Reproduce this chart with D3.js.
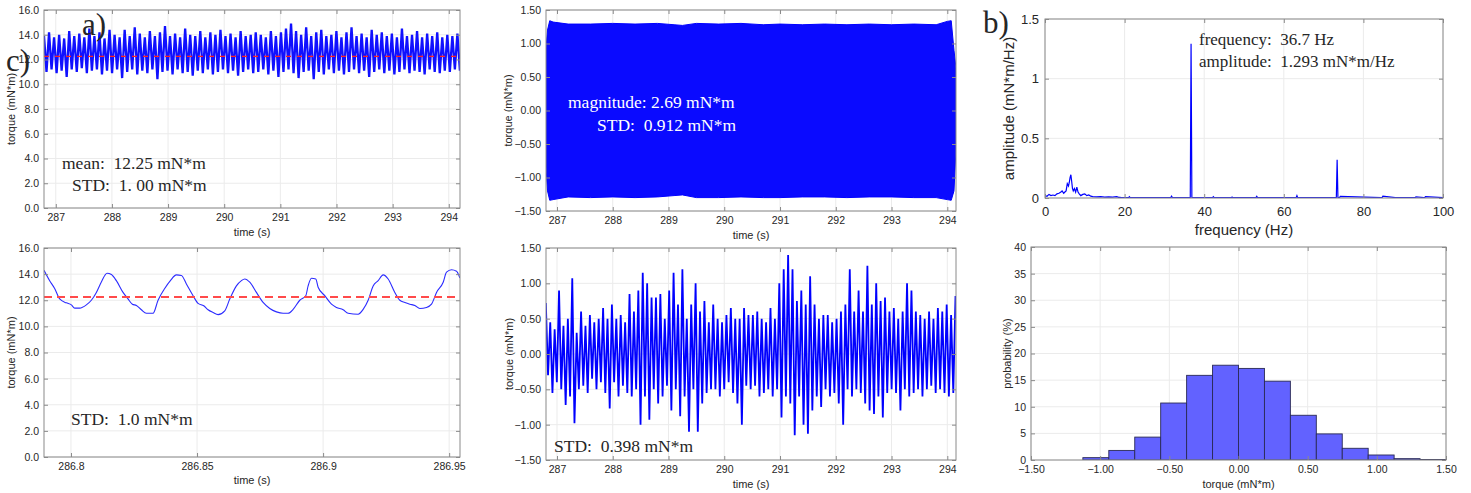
<!DOCTYPE html>
<html>
<head>
<meta charset="utf-8">
<script src="https://cdn.jsdelivr.net/npm/d3@7"></script>
<style>
  body { margin: 0; background: #fff; }
  svg { display: block; }
  text { font-family: "Liberation Sans", Arial, sans-serif; fill: #262626; }
  .note { font-family: "Liberation Serif", "Times New Roman", serif; white-space: pre; }
</style>
</head>
<body>
<svg id="fig" width="1471" height="493"></svg>
<script>
'use strict';

// ---- a) raw torque, peaks / troughs of the dense trace (mN*m)
const rawStart = 286.79, rawStep = 0.0449;
const rawPeaks = [
  13.9, 14.2, 13.8, 14.0, 13.7, 14.3, 13.9, 14.1, 13.8, 14.5,
  13.9, 14.2, 13.7, 14.4, 14.0, 13.8, 14.4, 13.9, 14.6, 14.1,
  13.8, 14.3, 13.9, 14.2, 14.7, 13.9, 14.1, 13.8, 14.5, 14.0,
  13.9, 14.3, 13.8, 14.2, 14.0, 14.4, 13.9, 14.1, 13.8, 14.3,
  13.9, 14.0, 14.2, 14.0, 13.8, 14.3, 13.9, 14.2, 14.5, 14.9,
  14.3, 14.0, 14.6, 13.9, 14.2, 14.4, 13.9, 14.0, 14.3, 13.8,
  14.2, 14.6, 13.9, 14.1, 13.8, 14.4, 14.0, 14.2, 13.9, 14.1,
  13.8, 14.5, 13.9, 14.0, 14.3, 13.8, 14.1, 13.9, 14.2, 13.8,
  14.0, 13.9, 14.1
];
const rawTroughs = [
  11.0, 11.2, 10.9, 11.1, 10.6, 11.2, 11.0, 11.3, 10.9, 11.1,
  11.2, 10.8, 11.1, 10.9, 11.2, 10.5, 11.0, 11.2, 10.8, 11.1,
  10.9, 11.2, 10.4, 11.0, 11.1, 10.8, 11.2, 10.9, 11.0, 10.7,
  11.1, 10.9, 11.2, 10.8, 11.0, 11.2, 10.9, 11.1, 10.7, 11.0,
  11.2, 10.9, 11.0, 11.2, 10.8, 11.1, 10.6, 11.0, 11.2, 10.9,
  10.5, 11.0, 11.1, 10.4, 11.0, 10.8, 11.2, 10.9, 11.1, 10.8,
  11.0, 11.2, 10.9, 11.1, 10.6, 11.0, 11.2, 10.9, 11.1, 10.8,
  11.0, 11.2, 10.9, 11.1, 11.0, 10.8, 11.2, 11.0, 10.9, 11.1,
  11.0, 11.2, 11.1
];
const meanTorque = 12.25;

// ---- 36.7 Hz component envelope (mN*m)
const oscT     = [286.80, 286.83, 286.87, 286.93, 287.2, 287.6, 288.0, 288.4, 288.8, 289.1, 289.25, 289.5, 289.9, 290.3, 290.7, 291.0, 291.4, 291.8, 292.2, 292.6, 293.0, 293.4, 293.8, 294.0, 294.07, 294.12, 294.16];
const oscUpper = [0.9, 1.2, 1.34, 1.32, 1.29, 1.29, 1.3, 1.29, 1.3, 1.28, 1.27, 1.3, 1.29, 1.3, 1.28, 1.29, 1.28, 1.29, 1.28, 1.29, 1.28, 1.29, 1.28, 1.33, 1.34, 0.9, 0.6];
const oscLower = [-0.8, -1.2, -1.34, -1.33, -1.29, -1.3, -1.29, -1.3, -1.29, -1.27, -1.26, -1.3, -1.3, -1.29, -1.3, -1.3, -1.29, -1.29, -1.3, -1.29, -1.29, -1.3, -1.3, -1.33, -1.34, -1.2, -0.5];

// ---- b) amplitude spectrum
const specFreq = [
  0, 0.5, 1, 1.5, 2, 2.5, 3, 3.5, 4, 4.3,
  4.7, 5, 5.3, 5.6, 5.9, 6.1, 6.3, 6.5, 6.7, 6.9,
  7.1, 7.4, 7.7, 8, 8.3, 8.6, 9, 9.5, 10, 10.5,
  11, 11.5, 12, 13, 14, 15, 16, 17, 18, 18.5,
  19, 21, 21.2, 21.4, 25, 31.6, 31.8, 32, 36.5, 36.7,
  36.9, 42.1, 42.3, 42.5, 45, 46.8, 47, 47.2, 53, 53.2,
  53.4, 55.5, 63.1, 63.3, 63.5, 67, 70, 73.2, 73.4, 73.6,
  74, 74.2, 84.5, 84.7, 84.9, 88, 92.8, 93, 93.2, 95.2,
  95.4, 95.6, 100
];
const specAmp = [
  0.02, 0.015, 0.03, 0.02, 0.025, 0.02, 0.035, 0.04, 0.05, 0.06,
  0.04, 0.05, 0.06, 0.12, 0.1, 0.13, 0.17, 0.195, 0.14, 0.08,
  0.06, 0.08, 0.05, 0.09, 0.05, 0.035, 0.02, 0.03, 0.035, 0.02,
  0.025, 0.015, 0.012, 0.01, 0.012, 0.008, 0.01, 0.008, 0.012, 0.006,
  0.005, 0.004, 0.012, 0.004, 0.003, 0.004, 0.015, 0.004, 0.005, 1.293,
  0.005, 0.004, 0.012, 0.004, 0.003, 0.003, 0.008, 0.003, 0.003, 0.014,
  0.003, 0.004, 0.003, 0.02, 0.003, 0.004, 0.003, 0.003, 0.32, 0.003,
  0.004, 0.014, 0.003, 0.003, 0.016, 0.003, 0.003, 0.003, 0.01, 0.003,
  0.003, 0.012, 0.003
];

// ---- c) zoom on raw torque
const zoomT = [
  286.7893, 286.79155, 286.79353, 286.79552, 286.79816, 286.80015, 286.80147, 286.80345, 286.8061, 286.80808,
  286.81007, 286.81205, 286.8143, 286.81602, 286.818, 286.82065, 286.82263, 286.82435, 286.82594, 286.82792,
  286.82991, 286.83255, 286.83454, 286.83718, 286.83943, 286.84181, 286.8438, 286.84578, 286.84843, 286.85041,
  286.85266, 286.85438, 286.85636, 286.85835, 286.86099, 286.86298, 286.86562, 286.86761, 286.86893, 286.87091,
  286.87356, 286.8762, 286.87885, 286.8815, 286.88414, 286.88612, 286.88811, 286.89075, 286.89313, 286.89406,
  286.89538, 286.8971, 286.89803, 286.90067, 286.90332, 286.9053, 286.90795, 286.90993, 286.9139, 286.91588,
  286.91787, 286.91985, 286.92184, 286.92382, 286.92581, 286.92845, 286.93044, 286.93242, 286.9344, 286.93639,
  286.93837, 286.94102, 286.943, 286.94499, 286.94763, 286.94896, 286.95094, 286.95293, 286.95425
];
const zoomTorque = [
  14.3, 13.5, 12.9, 12.1, 11.8, 11.65, 11.4, 11.4, 11.65, 12.0,
  12.6, 13.4, 14.07, 13.97, 13.5, 12.6, 12.1, 11.7, 11.6, 11.27,
  11.0, 11.0, 12.0, 12.9, 13.5, 13.94, 13.9, 13.25, 12.35, 11.76,
  11.58, 11.27, 11.06, 10.9, 11.19, 12.09, 13.1, 13.5, 13.63, 13.38,
  12.6, 11.83, 11.37, 11.11, 11.0, 11.0, 11.3, 12.0, 12.35, 13.1,
  13.68, 13.63, 13.0, 12.35, 11.7, 11.45, 11.27, 11.0, 10.93, 11.3,
  12.0, 13.1, 13.5, 13.94, 13.63, 12.6, 12.0, 11.83, 11.7, 11.6,
  11.37, 11.45, 11.7, 12.6, 13.38, 14.15, 14.33, 14.22, 13.7
];

// ---- residual after removing 36.7 Hz (mN*m)
const resStart = 286.80, resStep = 0.0395;
const residual = [
  0.72, -0.3, 0.45, -0.55, 0.35, -0.4, 0.9, -0.5, 0.4, -0.72,
  0.5, -0.6, 1.07, -0.98, 0.3, -0.5, 0.6, -0.45, 0.4, -0.55,
  0.55, -0.35, 0.45, -0.5, 0.5, -0.4, 0.65, -0.55, 0.5, -0.77,
  0.7, -0.4, 0.5, -0.6, 0.55, -0.45, 0.45, -0.55, 0.85, -0.6,
  0.6, -0.5, 0.9, -1.0, 1.15, -0.6, 1.0, -0.93, 0.8, -0.5,
  0.8, -0.7, 0.85, -0.6, 0.5, -0.45, 0.9, -0.8, 1.15, -0.5,
  0.7, -0.88, 1.2, -0.6, 0.5, -1.1, 0.7, -0.5, 1.0, -1.1,
  0.6, -0.7, 0.75, -0.55, 0.45, -0.5, 0.7, -0.5, 0.5, -0.6,
  0.45, -0.5, 0.55, -0.4, 0.65, -0.55, 0.5, -0.7, 0.5, -1.0,
  0.65, -0.45, 0.55, -0.5, 0.55, -0.45, 0.6, -0.6, 0.5, -0.55,
  0.45, -0.5, 0.65, -0.6, 0.5, -0.5, 1.0, -0.9, 1.2, -0.6,
  1.4, -0.7, 1.2, -1.15, 0.75, -0.6, 0.9, -1.0, 0.7, -1.13,
  1.1, -0.8, 0.7, -0.6, 0.5, -0.75, 0.55, -0.5, 0.55, -0.6,
  0.45, -0.55, 0.5, -0.7, 0.6, -1.0, 0.7, -0.5, 1.2, -0.6,
  0.6, -0.5, 0.9, -0.55, 0.6, -0.7, 1.25, -0.8, 0.7, -0.85,
  1.0, -0.6, 0.75, -0.9, 0.8, -0.55, 0.6, -0.5, 0.65, -0.55,
  0.5, -0.8, 0.6, -0.5, 1.0, -0.6, 0.9, -0.55, 0.6, -0.5,
  0.55, -0.6, 0.5, -0.5, 0.6, -0.45, 0.5, -0.55, 0.65, -0.5,
  0.6, -0.55, 0.7, -0.6, 0.55, -0.55, 0.82
];

// ---- histogram of residual
const histEdges = [-1.5, -1.3125, -1.125, -0.9375, -0.75, -0.5625, -0.375, -0.1875, 0, 0.1875, 0.375, 0.5625, 0.75, 0.9375, 1.125, 1.3125, 1.5];
const histProb  = [0, 0, 0.44, 1.8, 4.3, 10.7, 15.9, 17.8, 17.2, 14.8, 8.4, 4.9, 2.2, 0.94, 0.25, 0.1];

// ---- tick values
const timeTicks = [287, 288, 289, 290, 291, 292, 293, 294];
const torqueTicks = [0, 2, 4, 6, 8, 10, 12, 14, 16];
const devTicks = [-1.5, -1, -0.5, 0, 0.5, 1, 1.5];
const freqTicks = [0, 20, 40, 60, 80, 100];
const ampTicks = [0, 0.5, 1, 1.5];
const zoomTicks = [286.8, 286.85, 286.9, 286.95];
const probTicks = [0, 5, 10, 15, 20, 25, 30, 35, 40];

const svg = d3.select("#fig");
let clipId = 0;

function makePanel(o) {
  const x = d3.scaleLinear().domain(o.xDomain).range([o.left, o.right]);
  const y = d3.scaleLinear().domain(o.yDomain).range([o.bottom, o.top]);
  const g = svg.append("g");
  const tickFont = o.tickFont || 10.5;
  const labelFont = o.labelFont || 11;

  // grid
  g.append("g").selectAll("line").data(o.xTicks).enter().append("line")
    .attr("x1", d => x(d)).attr("x2", d => x(d))
    .attr("y1", o.top).attr("y2", o.bottom)
    .attr("stroke", "#ebebeb");
  g.append("g").selectAll("line").data(o.yTicks).enter().append("line")
    .attr("x1", o.left).attr("x2", o.right)
    .attr("y1", d => y(d)).attr("y2", d => y(d))
    .attr("stroke", "#ebebeb");

  const id = "clip" + (clipId++);
  svg.append("clipPath").attr("id", id).append("rect")
    .attr("x", o.left).attr("y", o.top)
    .attr("width", o.right - o.left).attr("height", o.bottom - o.top);
  const plot = g.append("g").attr("clip-path", `url(#${id})`);

  // axes, ticks inside, MATLAB style
  const styleAxis = sel => {
    sel.select(".domain").remove();
    sel.selectAll("line").attr("stroke", "#8a8a8a");
    sel.selectAll("text").style("font-size", tickFont + "px").attr("fill", "#262626");
  };
  g.append("g").attr("transform", `translate(0,${o.bottom})`)
    .call(d3.axisBottom(x).tickValues(o.xTicks).tickFormat(o.xFormat).tickSizeInner(-4).tickSizeOuter(0).tickPadding(o.xPad || 6))
    .call(styleAxis);
  g.append("g").attr("transform", `translate(0,${o.top})`)
    .call(d3.axisTop(x).tickValues(o.xTicks).tickFormat("").tickSizeInner(-4).tickSizeOuter(0))
    .call(styleAxis);
  g.append("g").attr("transform", `translate(${o.left},0)`)
    .call(d3.axisLeft(y).tickValues(o.yTicks).tickFormat(o.yFormat).tickSizeInner(-4).tickSizeOuter(0).tickPadding(o.yPad || 5))
    .call(styleAxis);
  g.append("g").attr("transform", `translate(${o.right},0)`)
    .call(d3.axisRight(y).tickValues(o.yTicks).tickFormat("").tickSizeInner(-4).tickSizeOuter(0))
    .call(styleAxis);

  g.append("rect")
    .attr("x", o.left).attr("y", o.top)
    .attr("width", o.right - o.left).attr("height", o.bottom - o.top)
    .attr("fill", "none").attr("stroke", "#8a8a8a").attr("stroke-width", 1);

  g.append("text")
    .attr("x", (o.left + o.right) / 2).attr("y", o.xLabelY)
    .attr("text-anchor", "middle").style("font-size", labelFont + "px")
    .text(o.xLabel);
  g.append("text")
    .attr("transform", `translate(${o.yLabelX},${(o.top + o.bottom) / 2}) rotate(-90)`)
    .attr("text-anchor", "middle").style("font-size", labelFont + "px")
    .text(o.yLabel);

  return { x, y, g, plot };
}

const f1 = d3.format(".1f"), f2 = d3.format(".2f");
const fPlain = d => String(d);

// ---- top-left: raw torque
const p1 = makePanel({
  left: 44, right: 460, top: 10, bottom: 208,
  xDomain: [286.79, 294.2], yDomain: [0, 16],
  xTicks: timeTicks, yTicks: torqueTicks, xFormat: fPlain, yFormat: f1,
  xLabel: "time (s)", xLabelY: 236, yLabel: "torque (mN*m)", yLabelX: 15
});
const rawSeries = rawPeaks.flatMap((p, i) => [p, rawTroughs[i]]);
p1.plot.append("path")
  .datum(rawSeries)
  .attr("fill", "none").attr("stroke", "#1010ff").attr("stroke-width", 2.3)
  .attr("stroke-linejoin", "miter")
  .attr("d", d3.line().x((d, i) => p1.x(rawStart + i * rawStep)).y(d => p1.y(d)));
p1.plot.append("line")
  .attr("x1", p1.x(286.79)).attr("x2", p1.x(294.2))
  .attr("y1", p1.y(meanTorque)).attr("y2", p1.y(meanTorque))
  .attr("stroke", "#ff2020").attr("stroke-width", 1.2).attr("stroke-dasharray", "5,6");
p1.g.append("text").attr("class", "note").attr("x", 62).attr("y", 169).style("font-size", "17.5px")
  .text("mean:  12.25 mN*m");
p1.g.append("text").attr("class", "note").attr("x", 72).attr("y", 191).style("font-size", "17.5px")
  .text("STD:  1. 00 mN*m");

// ---- top-middle: 36.7 Hz component
const p2 = makePanel({
  left: 546, right: 956, top: 10, bottom: 211,
  xDomain: [286.803, 294.156], yDomain: [-1.5, 1.5],
  xTicks: timeTicks, yTicks: devTicks, xFormat: fPlain, yFormat: f2,
  xLabel: "time (s)", xLabelY: 239, yLabel: "torque (mN*m)", yLabelX: 512
});
p2.plot.append("path")
  .datum(oscT.map((t, i) => [t, oscUpper[i], oscLower[i]]))
  .attr("fill", "#0a0aff").attr("stroke", "#0000ff").attr("stroke-width", 1)
  .attr("d", d3.area().x(d => p2.x(d[0])).y0(d => p2.y(d[2])).y1(d => p2.y(d[1])));
p2.g.append("text").attr("class", "note").attr("x", 568).attr("y", 108).style("font-size", "17.5px")
  .style("fill", "#ffffff").text("magnitude: 2.69 mN*m");
p2.g.append("text").attr("class", "note").attr("x", 597).attr("y", 131).style("font-size", "17.5px")
  .style("fill", "#ffffff").text("STD:  0.912 mN*m");

// ---- top-right: spectrum
const p3 = makePanel({
  left: 1045, right: 1443, top: 19, bottom: 198,
  xDomain: [0, 100], yDomain: [0, 1.5],
  xTicks: freqTicks, yTicks: ampTicks, xFormat: fPlain, yFormat: fPlain,
  tickFont: 13, labelFont: 15, xPad: 9, yPad: 6,
  xLabel: "frequency (Hz)", xLabelY: 235, yLabel: "amplitude (mN*m/Hz)", yLabelX: 1014
});
p3.plot.append("path")
  .datum(specFreq.map((f, i) => [f, specAmp[i]]))
  .attr("fill", "none").attr("stroke", "#0000ff").attr("stroke-width", 1.2)
  .attr("d", d3.line().x(d => p3.x(d[0])).y(d => p3.y(d[1])));
p3.g.append("text").attr("class", "note").attr("x", 1199).attr("y", 45).style("font-size", "17px")
  .text("frequency:  36.7 Hz");
p3.g.append("text").attr("class", "note").attr("x", 1199).attr("y", 67).style("font-size", "17px")
  .text("amplitude:  1.293 mN*m/Hz");

// ---- bottom-left: zoom on a few cycles
const p4 = makePanel({
  left: 44, right: 460, top: 248, bottom: 457,
  xDomain: [286.7893, 286.9543], yDomain: [0, 16],
  xTicks: zoomTicks, yTicks: torqueTicks, xFormat: fPlain, yFormat: f1,
  xLabel: "time (s)", xLabelY: 484, yLabel: "torque (mN*m)", yLabelX: 15
});
p4.plot.append("path")
  .datum(zoomT.map((t, i) => [t, zoomTorque[i]]))
  .attr("fill", "none").attr("stroke", "#2b2bff").attr("stroke-width", 1.1)
  .attr("d", d3.line().curve(d3.curveMonotoneX).x(d => p4.x(d[0])).y(d => p4.y(d[1])));
p4.plot.append("line")
  .attr("x1", p4.x(286.7893)).attr("x2", p4.x(286.9543))
  .attr("y1", p4.y(meanTorque)).attr("y2", p4.y(meanTorque))
  .attr("stroke", "#ff4a4a").attr("stroke-width", 2).attr("stroke-dasharray", "8,5");
p4.g.append("text").attr("class", "note").attr("x", 71).attr("y", 425).style("font-size", "17.5px")
  .text("STD:  1.0 mN*m");

// ---- bottom-middle: residual
const p5 = makePanel({
  left: 546, right: 956, top: 248, bottom: 460,
  xDomain: [286.803, 294.156], yDomain: [-1.5, 1.5],
  xTicks: timeTicks, yTicks: devTicks, xFormat: fPlain, yFormat: f2,
  xLabel: "time (s)", xLabelY: 488, yLabel: "torque (mN*m)", yLabelX: 513
});
p5.plot.append("path")
  .datum(residual)
  .attr("fill", "none").attr("stroke", "#0000ff").attr("stroke-width", 1.8)
  .attr("d", d3.line().x((d, i) => p5.x(resStart + i * resStep)).y(d => p5.y(d)));
p5.g.append("text").attr("class", "note").attr("x", 554).attr("y", 452).style("font-size", "17.5px")
  .text("STD:  0.398 mN*m");

// ---- bottom-right: histogram
const p6 = makePanel({
  left: 1031, right: 1446, top: 247, bottom: 460,
  xDomain: [-1.5, 1.5], yDomain: [0, 40],
  xTicks: devTicks, yTicks: probTicks, xFormat: f2, yFormat: fPlain,
  xLabel: "torque (mN*m)", xLabelY: 488, yLabel: "probability (%)", yLabelX: 1011
});
p6.plot.selectAll("rect.bar").data(histProb).enter().append("rect")
  .attr("class", "bar")
  .attr("x", (d, i) => p6.x(histEdges[i]))
  .attr("width", (d, i) => p6.x(histEdges[i + 1]) - p6.x(histEdges[i]))
  .attr("y", d => p6.y(d))
  .attr("height", d => p6.y(0) - p6.y(d))
  .attr("fill", "#6262ff").attr("stroke", "#2a2a55").attr("stroke-width", 0.9);

// panel letters
svg.append("text").attr("class", "note").attr("x", 82).attr("y", 35).style("font-size", "31px").text("a)");
svg.append("text").attr("class", "note").attr("x", 983).attr("y", 33).style("font-size", "31px").text("b)");
svg.append("text").attr("class", "note").attr("x", 6).attr("y", 71).style("font-size", "31px").text("c)");
</script>
</body>
</html>
